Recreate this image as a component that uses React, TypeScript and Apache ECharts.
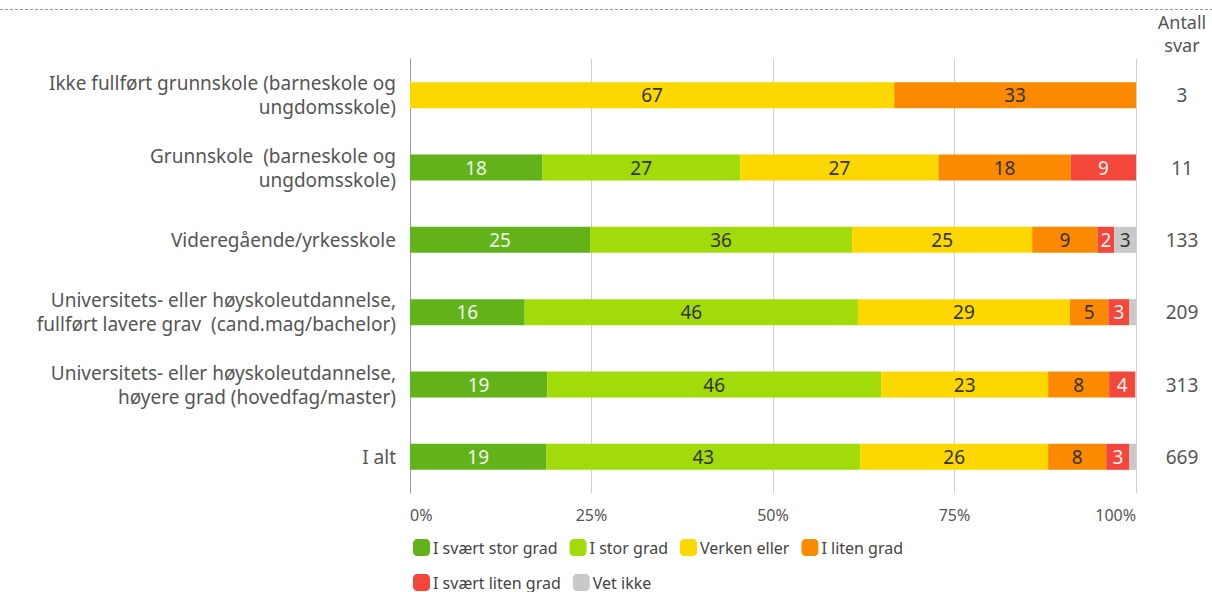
import React, { useEffect, useRef } from "react";
import * as echarts from "echarts";

const categories = [
  "Ikke fullført grunnskole (barneskole og\nungdomsskole)",
  "Grunnskole  (barneskole og\nungdomsskole)",
  "Videregående/yrkesskole",
  "Universitets- eller høyskoleutdannelse,\nfullført lavere grav  (cand.mag/bachelor)",
  "Universitets- eller høyskoleutdannelse,\nhøyere grad (hovedfag/master)",
  "I alt",
];
const antallSvar = ["3", "11", "133", "209", "313", "669"];

const seriesNames = [
  "I svært stor grad",
  "I stor grad",
  "Verken eller",
  "I liten grad",
  "I svært liten grad",
  "Vet ikke",
];
const sværtStorGrad = [0, 18.2, 24.8, 15.8, 18.9, 18.8];
const storGrad = [0, 27.3, 36.1, 45.9, 46.0, 43.2];
const verkenEller = [66.7, 27.3, 24.8, 29.2, 23.0, 25.9];
const litenGrad = [33.3, 18.2, 9.0, 5.3, 8.4, 8.0];
const sværtLitenGrad = [0, 9.1, 2.3, 2.9, 3.6, 3.2];
const vetIkke = [0, 0, 3.0, 1.0, 0.1, 0.9];

const xTicks = [0, 25, 50, 75, 100];

const colors = ["#62b31a", "#a2db0a", "#fcd800", "#fb8a00", "#f2473a", "#c9c9c9"];
const labelColors = ["#f4f4f4", "#333333", "#333333", "#333333", "#f4f4f4", "#333333"];

export default function App() {
  const ref = useRef<HTMLDivElement>(null);
  useEffect(() => {
    if (!ref.current) return;
    const chart = echarts.init(ref.current, undefined, { renderer: "svg" });
    const values = [sværtStorGrad, storGrad, verkenEller, litenGrad, sværtLitenGrad, vetIkke];
    const font = "Noto Sans";
    chart.setOption({
      animation: false,
      textStyle: { fontFamily: font },
      grid: { left: 410, right: 76, top: 59, bottom: 99, containLabel: false },
      xAxis: {
        type: "value",
        min: xTicks[0],
        max: xTicks[xTicks.length - 1],
        interval: 25,
        axisLine: { show: false },
        axisTick: { show: false },
        splitLine: { show: true, lineStyle: { color: "#d0d0d0", width: 1 } },
        axisLabel: {
          formatter: (v: number) => v + "%",
          color: "#555",
          fontSize: 16,
          fontFamily: font,
          margin: 14,
          alignMinLabel: "left",
          alignMaxLabel: "right",
        },
      },
      yAxis: [
        {
          type: "category",
          data: categories,
          inverse: true,
          axisLine: { show: true, lineStyle: { color: "#9a9a9a" } },
          axisTick: { show: false },
          axisLabel: {
            color: "#555",
            fontSize: 19,
            lineHeight: 24,
            margin: 14,
            fontFamily: font,
          },
        },
        {
          type: "category",
          data: antallSvar,
          inverse: true,
          position: "right",
          axisLine: { show: false },
          axisTick: { show: false },
          axisLabel: {
            color: "#555",
            fontSize: 19,
            margin: 46,
            align: "center",
            fontFamily: font,
          },
        },
      ],
      legend: {
        left: 408,
        top: 531,
        width: 600,
        itemWidth: 17,
        itemHeight: 17,
        itemGap: 12,
        icon: "roundRect",
        textStyle: {
          fontSize: 16,
          lineHeight: 23,
          color: "#444",
          fontFamily: font,
          padding: [0, 0, 0, -2],
        },
        data: seriesNames,
      },
      graphic: [
        {
          type: "line",
          shape: { x1: 0, y1: 9.5, x2: 1212, y2: 9.5 },
          style: { stroke: "#9a9a9a", lineWidth: 1, lineDash: [3, 2] },
        },
        {
          type: "text",
          x: 1182,
          y: 10,
          style: {
            text: "Antall\nsvar",
            fill: "#555",
            font: `18px ${font}`,
            lineHeight: 23,
            align: "center",
          },
        },
      ],
      series: seriesNames.map((name, i) => ({
        name,
        type: "bar",
        stack: "total",
        barWidth: 26,
        data: values[i],
        itemStyle: { color: colors[i] },
        label: {
          show: true,
          position: "inside",
          color: labelColors[i],
          fontSize: 19,
          fontFamily: font,
          formatter: (p: any) => (p.value >= 1.5 ? String(Math.round(p.value)) : ""),
        },
      })),
    });
    return () => chart.dispose();
  }, []);
  return (
    <div
      ref={ref}
      style={{ position: "fixed", left: 0, top: 0, width: 1212, height: 592, background: "#fff" }}
    />
  );
}
